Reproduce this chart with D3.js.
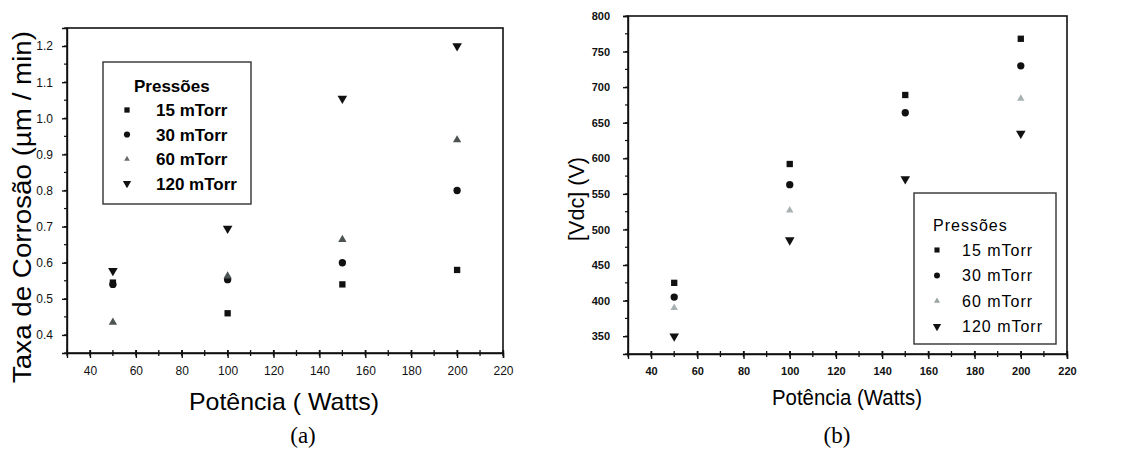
<!DOCTYPE html>
<html>
    <head>
        <script src="https://d3js.org/d3.v7.min.js"></script>
        <style>
            body, html {
                margin: 0;
                padding: 0;
                background: #ffffff;
                font-family: Arial, "Liberation Sans", Helvetica, sans-serif;
            }
            .frame {
                fill: none;
                stroke: #111111;
                stroke-width: 1.6;
            }
            .axis path, .axis line {
                stroke: #111111;
                stroke-width: 1.4;
            }
            .axis text {
                fill: #111111;
            }
        </style>
    </head>
    <body>
        <div id="chart"></div>
        <script>

            /* DATA */
            const power = [50, 100, 150, 200];
            const seriesNames = ["15 mTorr", "30 mTorr", "60 mTorr", "120 mTorr"];
            const legendTitle = "Pressões";

            // (a) etch rate, µm/min
            const rate15 = [0.545, 0.46, 0.54, 0.58];
            const rate30 = [0.54, 0.553, 0.60, 0.80];
            const rate60 = [0.435, 0.563, 0.664, 0.94];
            const rate120 = [0.578, 0.695, 1.055, 1.20];

            // (b) self bias, V  (60 mTorr at 150 W not visible)
            const vdc15 = [425, 592, 689, 768];
            const vdc30 = [405, 563, 664, 730];
            const vdc60 = [390, 527, null, 684];
            const vdc120 = [350, 485, 571, 635];

            const xTicks = [40, 60, 80, 100, 120, 140, 160, 180, 200, 220];
            const rateTicks = [0.4, 0.5, 0.6, 0.7, 0.8, 0.9, 1.0, 1.1, 1.2];
            const vdcTicks = [350, 400, 450, 500, 550, 600, 650, 700, 750, 800];

            const width = 1124;
            const height = 450;

            const svg = d3.select("#chart")
                .append("svg")
                .attr("width", width)
                .attr("height", height);

            const symbolTypes = [d3.symbolSquare, d3.symbolCircle, d3.symbolTriangle, d3.symbolTriangle];

            function drawPanel(p) {
                const g = svg.append("g");

                const xScale = d3.scaleLinear()
                    .domain([30, 220])
                    .range([p.left, p.right]);
                const yScale = d3.scaleLinear()
                    .domain(p.yDomain)
                    .range([p.bottom, p.top]);

                // minor ticks
                const xMinor = d3.range(30, 221, 10);
                g.append("g").selectAll("line")
                    .data(xMinor)
                    .enter()
                    .append("line")
                    .attr("x1", d => xScale(d))
                    .attr("x2", d => xScale(d))
                    .attr("y1", p.bottom - 3)
                    .attr("y2", p.bottom + 3)
                    .attr("stroke", "#111")
                    .attr("stroke-width", 1.3);

                g.append("g").selectAll("line")
                    .data(p.yMinor)
                    .enter()
                    .append("line")
                    .attr("x1", p.left - 3)
                    .attr("x2", p.left)
                    .attr("y1", d => yScale(d))
                    .attr("y2", d => yScale(d))
                    .attr("stroke", "#111")
                    .attr("stroke-width", 1.2);

                const xAxis = g.append("g")
                    .attr("class", "axis")
                    .attr("transform", `translate(0,${p.bottom})`)
                    .call(d3.axisBottom(xScale).tickValues(xTicks).tickSizeOuter(0).tickSize(5).tickPadding(p.xPad));
                xAxis.selectAll(".tick line").attr("y1", -3);
                xAxis.selectAll("text")
                    .style("font-size", p.tickFont + "px")
                    .style("font-weight", p.tickWeight);

                const yAxis = g.append("g")
                    .attr("class", "axis")
                    .attr("transform", `translate(${p.left},0)`)
                    .call(d3.axisLeft(yScale).tickValues(p.yTicks).tickFormat(p.yFormat).tickSizeOuter(0).tickSize(5).tickPadding(p.yPad));
                yAxis.selectAll("text")
                    .style("font-size", p.tickFont + "px")
                    .style("font-weight", p.tickWeight);

                g.append("rect")
                    .attr("class", "frame")
                    .attr("x", p.left)
                    .attr("y", p.top)
                    .attr("width", p.right - p.left)
                    .attr("height", p.bottom - p.top);

                // points
                p.series.forEach(function(vals, i) {
                    const pts = power.map((x, j) => ({x: x, y: vals[j]})).filter(d => d.y !== null);
                    g.append("g").selectAll("path")
                        .data(pts)
                        .enter()
                        .append("path")
                        .attr("d", d3.symbol().type(symbolTypes[i]).size(p.sizes[i]))
                        .attr("transform", d => `translate(${xScale(d.x)},${yScale(d.y)})` + (i === 3 ? " rotate(180)" : ""))
                        .attr("fill", p.colors[i]);
                });

                // legend
                const lg = g.append("g");
                lg.append("rect")
                    .attr("x", p.legend.x)
                    .attr("y", p.legend.y)
                    .attr("width", p.legend.w)
                    .attr("height", p.legend.h)
                    .attr("fill", "#fff")
                    .attr("stroke", "#333")
                    .attr("stroke-width", 1.4);
                lg.append("text")
                    .attr("x", p.legend.titleX)
                    .attr("y", p.legend.titleY)
                    .attr("font-size", p.legend.font)
                    .attr("font-weight", p.legend.weight)
                    .attr("letter-spacing", p.legend.spacing)
                    .text(legendTitle);
                seriesNames.forEach(function(name, i) {
                    const cy = p.legend.rowY + i * p.legend.rowH;
                    lg.append("path")
                        .attr("d", d3.symbol().type(symbolTypes[i]).size(p.legend.symSizes[i]))
                        .attr("transform", `translate(${p.legend.symX},${cy})` + (i === 3 ? " rotate(180)" : ""))
                        .attr("fill", p.legendColors[i]);
                    lg.append("text")
                        .attr("x", p.legend.textX)
                        .attr("y", cy)
                        .attr("dy", "0.36em")
                        .attr("font-size", p.legend.font)
                        .attr("font-weight", p.legend.weight)
                        .attr("letter-spacing", p.legend.spacing)
                        .text(name);
                });

                // titles
                g.append("text")
                    .attr("transform", `translate(${p.yTitle.x},${p.yTitle.y}) rotate(-90)`)
                    .attr("text-anchor", "middle")
                    .attr("font-size", p.yTitle.font)
                    .attr("textLength", p.yTitle.len)
                    .attr("lengthAdjust", "spacingAndGlyphs")
                    .text(p.yTitle.text);
                g.append("text")
                    .attr("x", p.xTitle.x)
                    .attr("y", p.xTitle.y)
                    .attr("text-anchor", "middle")
                    .attr("font-size", p.xTitle.font)
                    .attr("textLength", p.xTitle.len)
                    .attr("lengthAdjust", "spacingAndGlyphs")
                    .text(p.xTitle.text);
                g.append("text")
                    .attr("x", p.caption.x)
                    .attr("y", p.caption.y)
                    .attr("text-anchor", "middle")
                    .attr("font-family", "'Liberation Serif', 'Times New Roman', serif")
                    .attr("font-size", 23)
                    .text(p.caption.text);
            }

            drawPanel({
                left: 67, right: 503, top: 28, bottom: 353,
                yDomain: [0.35, 1.25],
                yTicks: rateTicks,
                yMinor: d3.range(0.35, 1.251, 0.05),
                yFormat: d3.format(".1f"),
                xPad: 8, yPad: 9,
                tickFont: 12, tickWeight: "normal",
                series: [rate15, rate30, rate60, rate120],
                colors: ["#111", "#111", "#4d5252", "#111"],
                legendColors: ["#111", "#111", "#6a6a6a", "#111"],
                sizes: [40, 42, 30, 40],
                legend: {
                    x: 103, y: 62, w: 148, h: 142,
                    titleX: 134, titleY: 92,
                    rowY: 110, rowH: 24.5,
                    symX: 127, textX: 156,
                    font: 17, weight: "bold", spacing: 0,
                    symSizes: [28, 30, 14, 30]
                },
                yTitle: {x: 31, y: 207, font: 26, len: 352, text: "Taxa de Corrosão (µm / min)"},
                xTitle: {x: 284, y: 410, font: 24, len: 190, text: "Potência ( Watts)"},
                caption: {x: 303, y: 443, text: "(a)"}
            });

            drawPanel({
                left: 628, right: 1067, top: 16, bottom: 354,
                yDomain: [325, 800],
                yTicks: vdcTicks,
                yMinor: d3.range(325, 801, 25),
                yFormat: d3.format("d"),
                xPad: 8, yPad: 13,
                tickFont: 11, tickWeight: "bold",
                series: [vdc15, vdc30, vdc60, vdc120],
                colors: ["#111", "#111", "#a9b2b2", "#111"],
                legendColors: ["#111", "#111", "#9aa5a5", "#111"],
                sizes: [40, 42, 24, 40],
                legend: {
                    x: 914, y: 193, w: 142, h: 151,
                    titleX: 933, titleY: 231,
                    rowY: 250, rowH: 25.5,
                    symX: 937, textX: 962,
                    font: 16, weight: "normal", spacing: 1,
                    symSizes: [26, 28, 16, 30]
                },
                yTitle: {x: 584, y: 199, font: 22, len: 84, text: "[Vdc] (V)"},
                xTitle: {x: 847, y: 405, font: 22, len: 150, text: "Potência (Watts)"},
                caption: {x: 837, y: 443, text: "(b)"}
            });

        </script>
    </body>
</html>
